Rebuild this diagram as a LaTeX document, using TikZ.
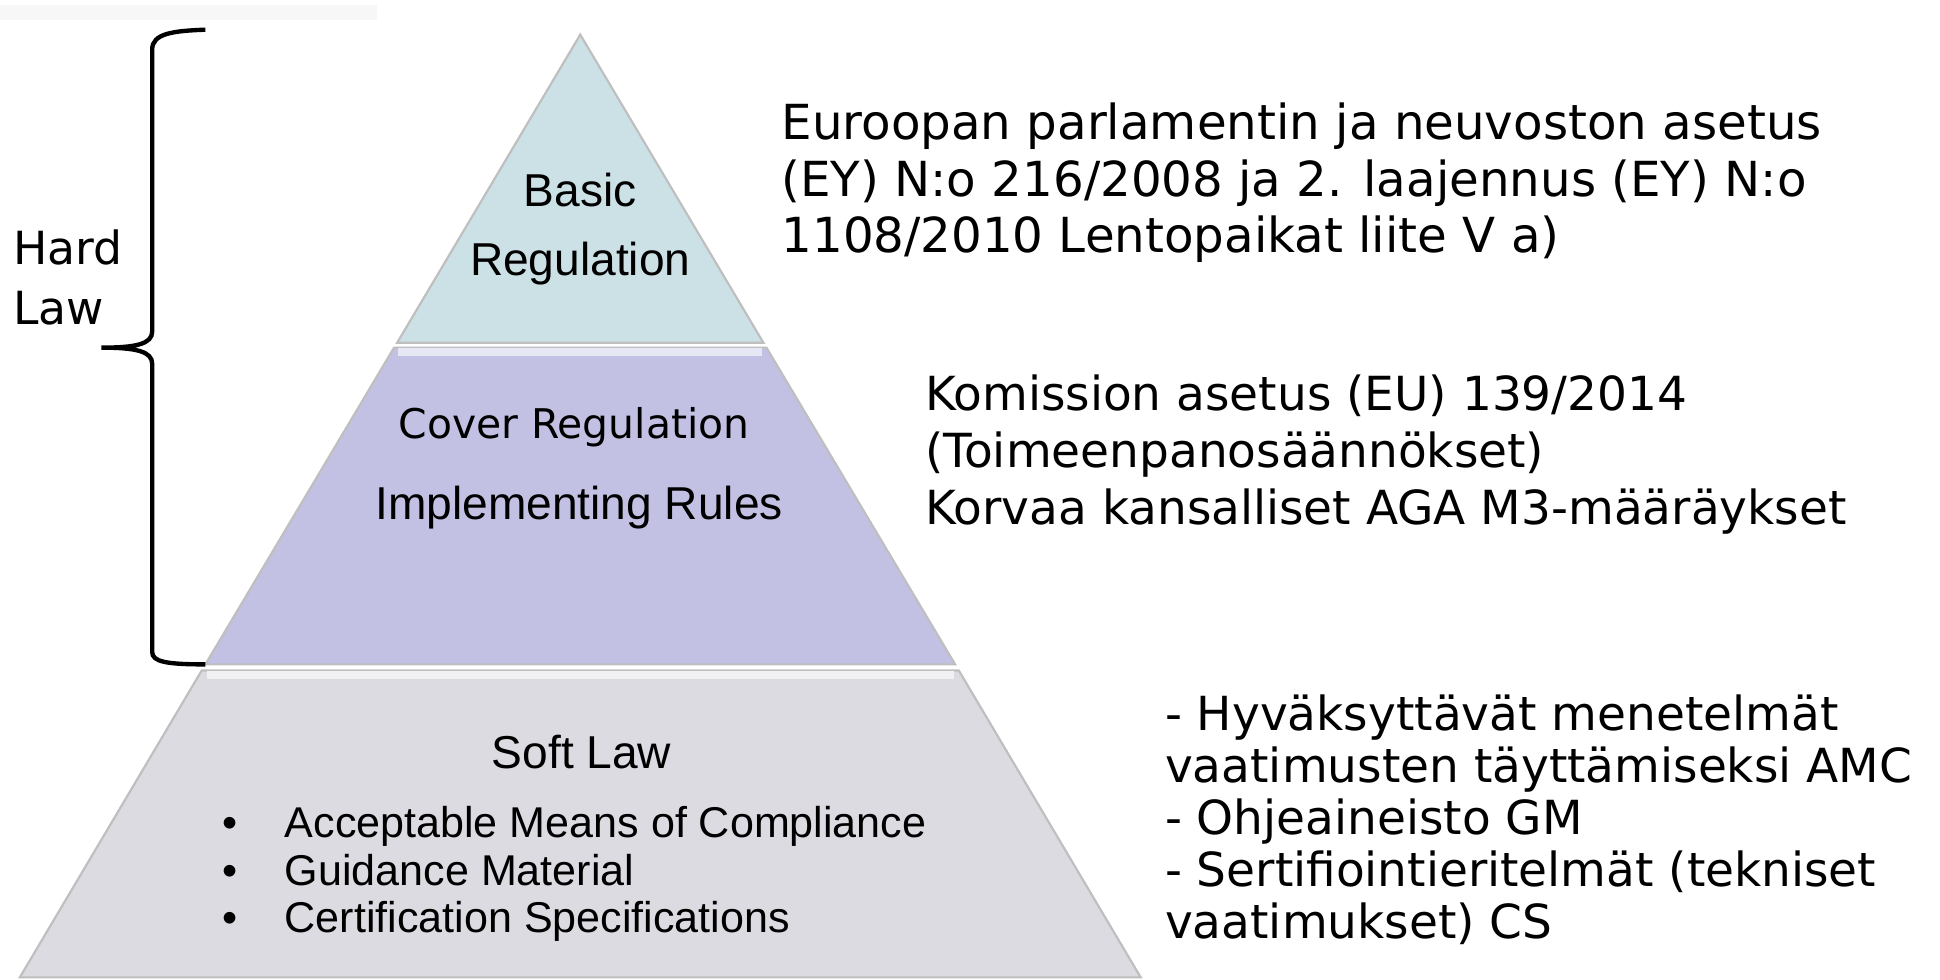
\documentclass[tikz,border=0pt]{standalone}
\usepackage{fontspec}
\setmainfont{Liberation Sans}
\newfontfamily\notefont{DejaVu Sans}
\definecolor{basicfill}{HTML}{CCE1E6}
\definecolor{rulefill}{HTML}{C2C1E3}
\definecolor{softfill}{HTML}{DBDBE1}
\tikzset{
  tier/.style={draw=gray!50, line width=0.5pt},
  pyrtext/.style={align=center, font=\fontsize{10.6}{15.9}\selectfont},
  note/.style={anchor=north west, align=left, inner sep=0pt,
    font=\notefont\fontsize{10.8}{13.1}\selectfont},
}
\begin{document}
\begin{tikzpicture}[x=0.01cm, y=-0.01cm]
\useasboundingbox (0,0) rectangle (1568,792);
\clip (0,0) rectangle (1568,792);
\fill[gray!6] (0,4) rectangle (305,16);

% pyramid tiers
\path[tier, fill=basicfill] (469,28) -- (617,277) -- (321,277) -- cycle;
\path[tier, fill=rulefill] (318.5,281) -- (619.5,281) -- (772,537) -- (166,537) -- cycle;
\path[tier, fill=softfill] (163,542) -- (775,542) -- (922,790) -- (16,790) -- cycle;
\draw[white!60!rulefill, line width=2pt] (322,284.5) -- (616,284.5);
\draw[white!60!softfill, line width=2pt] (167,545.5) -- (771,545.5);

\node[pyrtext] (basic) at (469,185) {Basic\\Regulation};
\node[font=\notefont\fontsize{9.4}{10}\selectfont] (cover) at (464,345) {Cover Regulation};
\node[pyrtext] (impl) at (468,410) {Implementing Rules};
\node[pyrtext] (soft) at (470,608) {Soft Law};
\foreach \txt [count=\i] in {Acceptable Means of Compliance, Guidance Material, Certification Specifications} {
  \node[anchor=base west, inner sep=0pt, font=\fontsize{9.9}{11}\selectfont] (item\i) at (229.5,{677+(\i-1)*38.5}) {\txt};
  \node[anchor=base, inner sep=0pt, font=\fontsize{9.9}{11}\selectfont] (dot\i) at (186,{677+(\i-1)*38.5}) {\textbullet};
}

% hard law brace
\draw[line width=1pt] (166,24) .. controls (140,25) and (123,27) .. (123,40)
  -- (123,268) .. controls (123,278) and (110,281) .. (82,281)
  .. controls (110,281) and (123,284) .. (123,294)
  -- (123,527) .. controls (123,535) and (135,537) .. (166,537);
\node[note, font=\notefont\fontsize{10.5}{13.7}\selectfont] (hard) at (10,185) {Hard\\Law};

% notes
\node[note, font=\notefont\fontsize{11.1}{13.1}\selectfont] (basicnote) at (631,82) {Euroopan parlamentin ja neuvoston asetus\\(EY) N:o 216/2008 ja 2. laajennus (EY) N:o\\1108/2010 Lentopaikat liite V a)};
\node[note] (rulenote) at (747,302) {Komission asetus (EU) 139/2014\\(Toimeenpanosäännökset)\\Korvaa kansalliset AGA M3-määräykset};
\node[note, font=\notefont\fontsize{10.8}{11.95}\selectfont] (softnote) at (941,561) {- Hyväksyttävät menetelmät\\vaatimusten täyttämiseksi AMC\\- Ohjeaineisto GM\\- Sertifiointieritelmät (tekniset\\vaatimukset) CS};
\end{tikzpicture}
\end{document}
